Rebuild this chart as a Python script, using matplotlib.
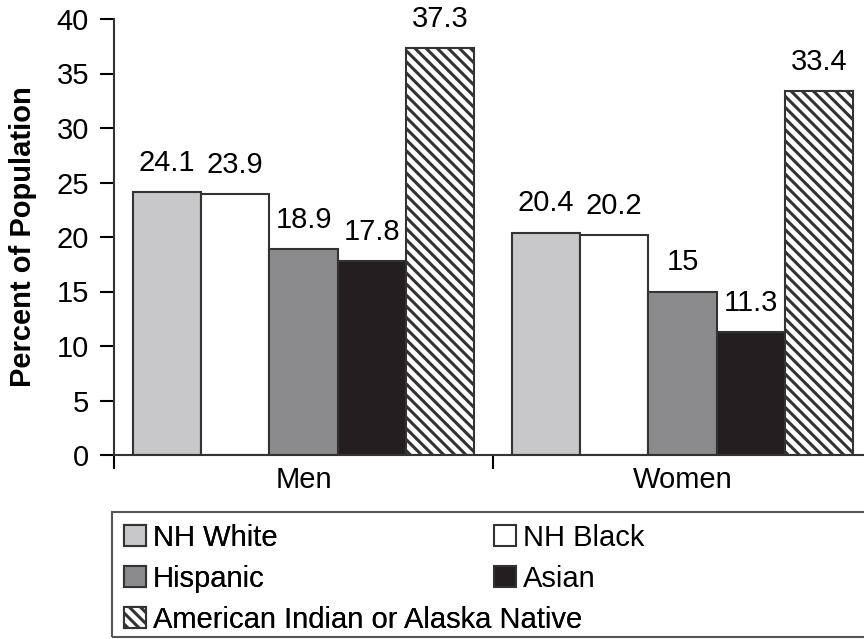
import matplotlib

matplotlib.use("Agg")
import matplotlib.pyplot as plt
import numpy as np
from matplotlib.patches import Rectangle

groups = ["Men", "Women"]
series = [
    "NH White",
    "NH Black",
    "Hispanic",
    "Asian",
    "American Indian or Alaska Native",
]
values = {
    "NH White": [24.1, 20.4],
    "NH Black": [23.9, 20.2],
    "Hispanic": [18.9, 15],
    "Asian": [17.8, 11.3],
    "American Indian or Alaska Native": [37.3, 33.4],
}
value_labels = {
    "NH White": ["24.1", "20.4"],
    "NH Black": ["23.9", "20.2"],
    "Hispanic": ["18.9", "15"],
    "Asian": ["17.8", "11.3"],
    "American Indian or Alaska Native": ["37.3", "33.4"],
}
colors = {
    "NH White": "#c8c8ca",
    "NH Black": "#ffffff",
    "Hispanic": "#8b8b8d",
    "Asian": "#231f20",
    "American Indian or Alaska Native": "#ffffff",
}
hatches = {"American Indian or Alaska Native": "\\\\\\"}
y_ticks = [0, 5, 10, 15, 20, 25, 30, 35, 40]

plt.rcParams.update(
    {
        "font.family": ["Liberation Sans", "DejaVu Sans"],
        "hatch.color": "#333333",
        "hatch.linewidth": 2.2,
    }
)

fig = plt.figure(figsize=(8.64, 6.39), dpi=100)
ax = fig.add_axes([114 / 864, 1 - 455 / 639, 758 / 864, 436 / 639])

x = np.arange(len(groups))
width = 0.18
handles = []
for i, name in enumerate(series):
    offset = (i - 2) * width
    bars = ax.bar(
        x + offset,
        values[name],
        width,
        color=colors[name],
        edgecolor="#333333",
        linewidth=1.5,
        hatch=hatches.get(name),
        label=name,
    )
    handles.append(bars)
    for bar, text in zip(bars, value_labels[name]):
        ax.text(
            bar.get_x() + bar.get_width() / 2,
            bar.get_height() + 1.4,
            text,
            ha="center",
            va="bottom",
            fontsize=21,
        )

ax.set_xlim(-0.5, 1.5)
ax.set_ylim(0, 40)
ax.set_yticks(y_ticks)
ax.set_xticks(x)
ax.set_xticklabels(groups)
ax.set_xticks([-0.5, 0.5, 1.5], minor=True)
ax.tick_params(axis="x", which="major", length=0, labelsize=21, pad=8)
ax.tick_params(axis="x", which="minor", length=10, width=1.5, direction="out")
ax.tick_params(axis="y", length=10, width=1.5, direction="out", labelsize=21, pad=8)
ax.set_ylabel("Percent of Population", fontsize=21, fontweight="bold", labelpad=14)

for side in ("top", "right"):
    ax.spines[side].set_visible(False)
for side in ("left", "bottom"):
    ax.spines[side].set_linewidth(1.5)
    ax.spines[side].set_color("#333333")

legend_style = dict(
    loc="upper left",
    frameon=False,
    fontsize=21,
    handlelength=0.75,
    handleheight=0.75,
    handletextpad=0.25,
    labelspacing=0.45,
    borderaxespad=0.0,
    borderpad=0.4,
)
left_col = [0, 2, 4]
right_col = [1, 3]
leg1 = fig.legend(
    [handles[i] for i in left_col],
    [series[i] for i in left_col],
    bbox_to_anchor=(112 / 864, 1 - 512 / 639),
    **legend_style,
)
fig.legend(
    [handles[i] for i in right_col],
    [series[i] for i in right_col],
    bbox_to_anchor=(482 / 864, 1 - 512 / 639),
    **legend_style,
)
fig.add_artist(leg1)

fig.patches.append(
    Rectangle(
        (112 / 864, 2 / 639),
        1.0,
        (637 - 512) / 639,
        transform=fig.transFigure,
        fill=False,
        edgecolor="#555555",
        linewidth=1.5,
        clip_on=False,
    )
)

fig.savefig("out.png", dpi=100)
